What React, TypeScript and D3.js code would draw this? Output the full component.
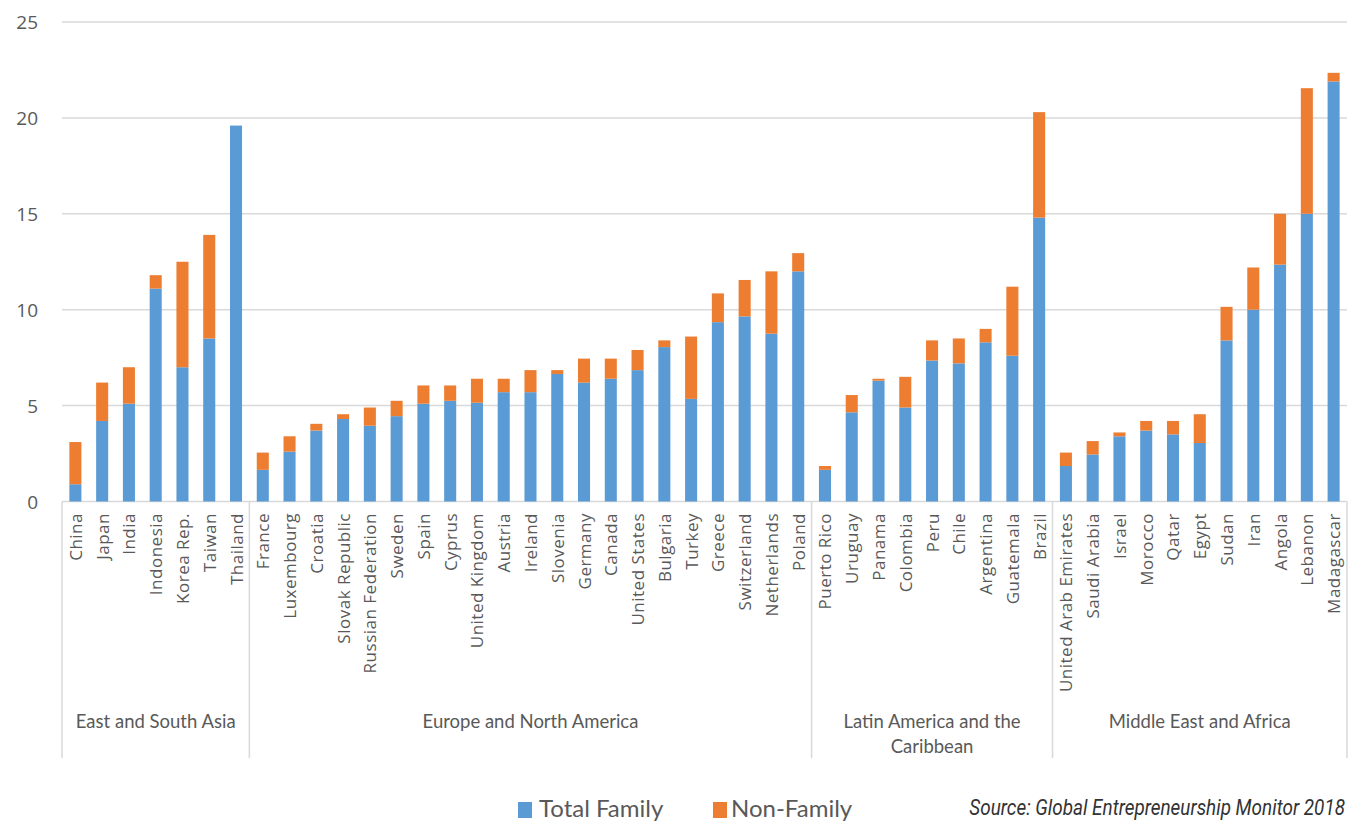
import React, { useLayoutEffect, useRef, useState } from 'react'
import * as d3 from 'd3'

// values
const countries = [
  'China', 'Japan', 'India', 'Indonesia', 'Korea Rep.', 'Taiwan', 'Thailand',
  'France', 'Luxembourg', 'Croatia', 'Slovak Republic', 'Russian Federation', 'Sweden', 'Spain',
  'Cyprus', 'United Kingdom', 'Austria', 'Ireland', 'Slovenia', 'Germany', 'Canada',
  'United States', 'Bulgaria', 'Turkey', 'Greece', 'Switzerland', 'Netherlands', 'Poland',
  'Puerto Rico', 'Uruguay', 'Panama', 'Colombia', 'Peru', 'Chile', 'Argentina', 'Guatemala', 'Brazil',
  'United Arab Emirates', 'Saudi Arabia', 'Israel', 'Morocco', 'Qatar', 'Egypt', 'Sudan', 'Iran',
  'Angola', 'Lebanon', 'Madagascar'
]

const totalFamily = [
  0.9, 4.2, 5.1, 11.1, 7.0, 8.5, 19.6,
  1.65, 2.6, 3.7, 4.3, 3.95, 4.45, 5.1,
  5.25, 5.15, 5.7, 5.7, 6.65, 6.2, 6.4,
  6.85, 8.05, 5.35, 9.35, 9.65, 8.75, 12.0,
  1.65, 4.65, 6.3, 4.9, 7.35, 7.2, 8.3, 7.6, 14.8,
  1.85, 2.45, 3.4, 3.7, 3.5, 3.05, 8.4, 10.0,
  12.35, 15.0, 21.9
]

const nonFamily = [
  2.2, 2.0, 1.9, 0.7, 5.5, 5.4, 0,
  0.9, 0.8, 0.35, 0.25, 0.95, 0.8, 0.95,
  0.8, 1.25, 0.7, 1.15, 0.2, 1.25, 1.05,
  1.05, 0.35, 3.25, 1.5, 1.9, 3.25, 0.95,
  0.2, 0.9, 0.1, 1.6, 1.05, 1.3, 0.7, 3.6, 5.5,
  0.7, 0.7, 0.2, 0.5, 0.7, 1.5, 1.75, 2.2,
  2.65, 6.55, 0.45
]

const regions = [
  { name: ['East and South Asia'], count: 7 },
  { name: ['Europe and North America'], count: 21 },
  { name: ['Latin America and the', 'Caribbean'], count: 9 },
  { name: ['Middle East and Africa'], count: 11 }
]

const yTicks = [0, 5, 10, 15, 20, 25]
const seriesKeys = ['family', 'nonFamily']
const seriesNames = ['Total Family', 'Non-Family']
const colors = ['#5B9BD5', '#ED7D31']
const sourceText = 'Source: Global Entrepreneurship Monitor 2018'

const W = 1352, H = 825
const left = 62, right = 1347, top = 22, bottom = 501.5

export default function App() {
  const srcRef = useRef<SVGTextElement>(null)
  const [srcScale, setSrcScale] = useState(1)

  // squeeze the source line into the narrow width it has in the original
  useLayoutEffect(() => {
    if (srcRef.current) {
      const len = srcRef.current.getComputedTextLength()
      if (len > 0) setSrcScale(376 / len)
    }
  }, [])

  const rows = countries.map((c, i) => ({ country: c, family: totalFamily[i], nonFamily: nonFamily[i] }))

  const x = d3.scaleBand<string>()
    .domain(countries)
    .range([left, right])
    .paddingInner(0.55)
    .paddingOuter(0.275)

  const y = d3.scaleLinear().domain([0, 25]).range([bottom, top])

  const stacked = d3.stack<any>().keys(seriesKeys)(rows)

  const step = x.step()
  let acc = 0
  const bounds = [left]
  regions.forEach(r => { acc += r.count; bounds.push(left + acc * step) })

  const textColor = '#595959'
  const gridColor = '#D9D9D9'

  return (
    <svg width={W} height={H} style={{ position: 'absolute', left: 0, top: 0, background: '#fff' }}>
      {/* grid */}
      {yTicks.map(t => (
        <g key={t}>
          <line x1={left} x2={right} y1={y(t)} y2={y(t)} stroke={gridColor} strokeWidth={1.5} />
          <text x={38} y={y(t)} textAnchor="end" dominantBaseline="central"
            style={{ fontFamily: 'Open Sans', fontSize: 19, fill: textColor }}>{t}</text>
        </g>
      ))}

      {/* bars */}
      {stacked.map((s, si) => (
        <g key={s.key} fill={colors[si]}>
          {s.map((d, i) => (
            <rect key={i} x={x(countries[i])} width={x.bandwidth()}
              y={y(d[1])} height={Math.max(0, y(d[0]) - y(d[1]))} />
          ))}
        </g>
      ))}

      {/* region separators */}
      {bounds.map((b, i) => (
        <line key={i} x1={b} x2={b} y1={bottom} y2={758} stroke={gridColor} strokeWidth={1.5} />
      ))}

      {/* country labels */}
      {countries.map(c => (
        <text key={c} transform={`translate(${x(c)! + x.bandwidth() / 2},513) rotate(-90)`}
          textAnchor="end" dominantBaseline="central"
          style={{ fontFamily: 'Open Sans', fontSize: 17, letterSpacing: 0.5, fill: textColor }}>{c}</text>
      ))}

      {/* region labels */}
      {regions.map((r, i) => (
        <text key={i} x={(bounds[i] + bounds[i + 1]) / 2} y={728} textAnchor="middle"
          style={{ fontFamily: 'Lato', fontSize: 18.5, fill: textColor }}>
          {r.name.map((ln, j) => (
            <tspan key={j} x={(bounds[i] + bounds[i + 1]) / 2} dy={j === 0 ? 0 : 25}>{ln}</tspan>
          ))}
        </text>
      ))}

      {/* legend */}
      <rect x={518} y={802} width={14} height={16} fill={colors[0]} />
      <text x={539} y={817} style={{ fontFamily: 'Lato', fontSize: 24, fill: textColor }}>{seriesNames[0]}</text>
      <rect x={713} y={802} width={14} height={16} fill={colors[1]} />
      <text x={731} y={817} style={{ fontFamily: 'Lato', fontSize: 24, fill: textColor }}>{seriesNames[1]}</text>

      {/* source */}
      <g transform={`translate(1345,815) scale(${srcScale},1)`}>
        <text ref={srcRef} x={0} y={0} textAnchor="end"
          style={{ fontFamily: 'Roboto', fontStyle: 'italic', fontSize: 22, fill: '#333' }}>
          {sourceText}
        </text>
      </g>
    </svg>
  )
}
